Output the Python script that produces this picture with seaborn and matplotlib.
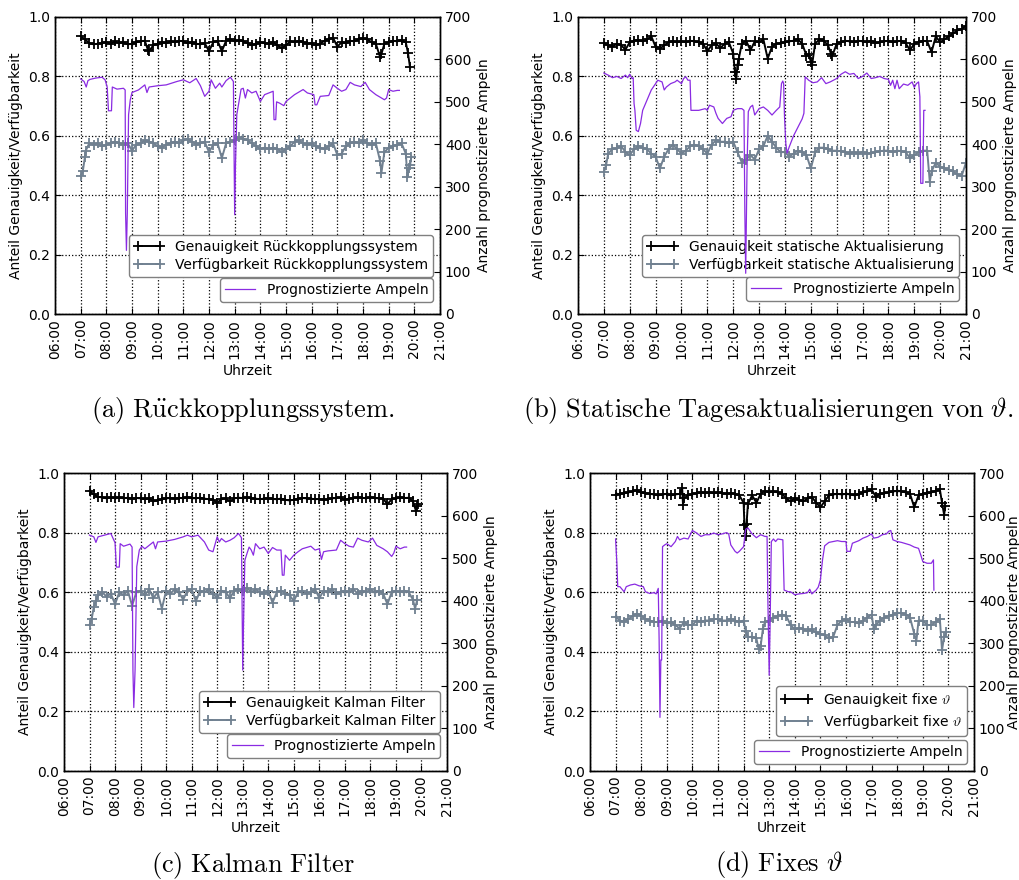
import matplotlib
matplotlib.use("Agg")
import matplotlib.pyplot as plt
import seaborn as sns

# ---------------- data ----------------
HOURS = list(range(6, 22))
TICK_LABELS = [f"{h:02d}:00" for h in HOURS]
GRID_START = "07:00"   # marker series are read every 10 minutes
GRID_STEP_MIN = 10

# (a) Rückkopplungssystem
A_ACC = [0.935, 0.925, 0.912, 0.908, 0.910, 0.912,
         0.915, 0.910, 0.918, 0.912, 0.915, 0.908,
         0.910, 0.915, 0.918, 0.920, 0.885, 0.905,
         0.910, 0.915, 0.912, 0.918, 0.915, 0.920,
         0.918, 0.912, 0.915, 0.910, 0.908, 0.912,
         0.885, 0.915, 0.920, 0.885, 0.920, 0.925,
         0.918, 0.922, 0.918, 0.912, 0.905, 0.910,
         0.915, 0.912, 0.910, 0.915, 0.905, 0.895,
         0.905, 0.918, 0.915, 0.920, 0.915, 0.910,
         0.912, 0.905, 0.910, 0.920, 0.925, 0.930,
         0.900, 0.915, 0.912, 0.920, 0.918, 0.925,
         0.928, 0.925, 0.915, 0.910, 0.865, 0.910,
         0.915, 0.920, 0.918, 0.922, 0.915, 0.830]
A_ACC_X = [("09:37", 0.890), ("18:43", 0.875), ("19:45", 0.880)]
A_AVL = [0.465, 0.530, 0.575, 0.570, 0.575, 0.565,
         0.570, 0.575, 0.580, 0.575, 0.570, 0.575,
         0.550, 0.570, 0.575, 0.585, 0.580, 0.575,
         0.565, 0.560, 0.570, 0.575, 0.580, 0.575,
         0.585, 0.590, 0.580, 0.570, 0.575, 0.580,
         0.545, 0.570, 0.575, 0.525, 0.575, 0.580,
         0.585, 0.595, 0.590, 0.585, 0.575, 0.565,
         0.555, 0.560, 0.555, 0.560, 0.555, 0.545,
         0.555, 0.565, 0.580, 0.585, 0.575, 0.570,
         0.575, 0.565, 0.560, 0.555, 0.565, 0.575,
         0.535, 0.540, 0.565, 0.575, 0.580, 0.575,
         0.585, 0.575, 0.570, 0.575, 0.515, 0.545,
         0.560, 0.565, 0.570, 0.575, 0.540, 0.500]
A_AVL_X = [("07:05", 0.480), ("07:12", 0.550), ("18:43", 0.475),
           ("19:44", 0.460), ("19:47", 0.490), ("19:53", 0.530)]
A_PRED = [("07:00", 554), ("07:08", 548), ("07:13", 535), ("07:17", 550), ("07:22", 553),
          ("07:35", 556), ("07:50", 558), ("07:57", 552), ("08:02", 535), ("08:05", 479),
          ("08:12", 479), ("08:14", 535), ("08:25", 530), ("08:40", 532), ("08:44", 528),
          ("08:45", 238), ("08:47", 150), ("08:49", 238), ("08:52", 470), ("08:56", 505),
          ("09:00", 522), ("09:15", 528), ("09:30", 540), ("09:35", 522), ("09:40", 535),
          ("10:00", 538), ("10:20", 540), ("10:45", 548), ("11:00", 552), ("11:15", 545),
          ("11:30", 555), ("11:40", 538), ("11:50", 513), ("12:00", 525), ("12:05", 552),
          ("12:15", 532), ("12:25", 544), ("12:30", 535), ("12:40", 550), ("12:50", 558),
          ("12:57", 548), ("13:00", 234), ("13:02", 356), ("13:05", 470), ("13:10", 500),
          ("13:15", 530), ("13:20", 532), ("13:25", 509), ("13:30", 529), ("13:40", 521),
          ("13:50", 525), ("14:00", 501), ("14:10", 517), ("14:30", 525), ("14:32", 458),
          ("14:36", 458), ("14:38", 500), ("14:45", 497), ("14:55", 491), ("15:00", 501),
          ("15:10", 509), ("15:20", 517), ("15:40", 529), ("15:50", 521), ("16:05", 517),
          ("16:08", 493), ("16:12", 493), ("16:20", 513), ("16:40", 515), ("16:50", 540),
          ("17:00", 532), ("17:10", 525), ("17:20", 529), ("17:30", 546), ("17:40", 540),
          ("17:55", 536), ("18:05", 546), ("18:15", 529), ("18:30", 517), ("18:50", 505),
          ("18:55", 509), ("19:00", 529), ("19:10", 525), ("19:20", 527), ("19:25", 527)]

# (b) Statische Tagesaktualisierungen
B_ACC = [0.912, 0.905, 0.900, 0.910, 0.905, 0.890,
         0.915, 0.920, 0.922, 0.918, 0.925, 0.935,
         0.900, 0.893, 0.905, 0.915, 0.918, 0.915,
         0.918, 0.915, 0.920, 0.918, 0.915, 0.910,
         0.885, 0.905, 0.912, 0.895, 0.910, 0.915,
         0.877, 0.840, 0.910, 0.920, 0.888, 0.918,
         0.915, 0.925, 0.860, 0.900, 0.910, 0.912,
         0.915, 0.918, 0.920, 0.925, 0.910, 0.870,
         0.850, 0.910, 0.925, 0.920, 0.905, 0.870,
         0.910, 0.915, 0.920, 0.918, 0.915, 0.920,
         0.918, 0.915, 0.920, 0.912, 0.915, 0.918,
         0.920, 0.915, 0.918, 0.920, 0.912, 0.888,
         0.910, 0.915, 0.920, 0.918, 0.882, 0.935,
         0.915, 0.925, 0.935, 0.945, 0.955, 0.960,
         0.970]
B_ACC_X = [("12:04", 0.815), ("12:07", 0.790), ("12:13", 0.860),
           ("14:55", 0.875), ("15:03", 0.840), ("15:47", 0.875)]
B_AVL = [0.478, 0.540, 0.555, 0.558, 0.566, 0.545,
         0.535, 0.555, 0.565, 0.560, 0.555, 0.540,
         0.530, 0.490, 0.530, 0.555, 0.570, 0.555,
         0.540, 0.550, 0.565, 0.570, 0.565, 0.555,
         0.540, 0.570, 0.585, 0.580, 0.580, 0.575,
         0.580, 0.545, 0.510, 0.520, 0.535, 0.520,
         0.555, 0.565, 0.600, 0.580, 0.560, 0.545,
         0.545, 0.530, 0.540, 0.550, 0.545, 0.535,
         0.490, 0.545, 0.560, 0.560, 0.555, 0.550,
         0.550, 0.548, 0.545, 0.540, 0.545, 0.540,
         0.545, 0.540, 0.542, 0.545, 0.548, 0.550,
         0.550, 0.545, 0.550, 0.548, 0.545, 0.525,
         0.535, 0.545, 0.550, 0.550, 0.480, 0.510,
         0.495, 0.490, 0.485, 0.480, 0.470, 0.465,
         0.510]
B_AVL_X = [("07:05", 0.500), ("19:36", 0.445)]
B_PRED = [("07:00", 568), ("07:10", 563), ("07:20", 557), ("07:30", 560), ("07:40", 555),
          ("07:50", 563), ("07:55", 557), ("08:00", 565), ("08:05", 555), ("08:08", 557),
          ("08:10", 496), ("08:12", 480), ("08:15", 433), ("08:20", 430), ("08:25", 449),
          ("08:30", 480), ("08:40", 504), ("08:50", 528), ("09:00", 543), ("09:05", 551),
          ("09:15", 547), ("09:20", 528), ("09:25", 535), ("09:35", 543), ("09:45", 547),
          ("09:50", 551), ("10:00", 543), ("10:05", 555), ("10:10", 559), ("10:15", 551),
          ("10:20", 551), ("10:22", 480), ("10:40", 480), ("10:55", 484), ("11:00", 480),
          ("11:05", 492), ("11:15", 488), ("11:20", 473), ("11:25", 461), ("11:35", 449),
          ("11:45", 461), ("11:55", 465), ("12:00", 480), ("12:10", 484), ("12:20", 484),
          ("12:25", 480), ("12:27", 241), ("12:29", 96), ("12:32", 339), ("12:35", 477),
          ("12:40", 488), ("12:45", 492), ("12:50", 469), ("13:00", 484), ("13:10", 488),
          ("13:20", 480), ("13:30", 469), ("13:40", 480), ("13:48", 488), ("13:52", 543),
          ("13:55", 549), ("13:57", 543), ("13:59", 465), ("14:02", 402), ("14:05", 379),
          ("14:10", 394), ("14:20", 420), ("14:30", 440), ("14:40", 460), ("14:44", 473),
          ("14:47", 559), ("14:55", 551), ("15:05", 545), ("15:15", 547), ("15:25", 557),
          ("15:35", 543), ("15:45", 547), ("16:00", 555), ("16:10", 565), ("16:20", 571),
          ("16:30", 565), ("16:40", 567), ("16:50", 555), ("17:00", 560), ("17:10", 568),
          ("17:20", 555), ("17:30", 557), ("17:40", 560), ("17:50", 555), ("18:00", 553),
          ("18:05", 539), ("18:10", 551), ("18:15", 531), ("18:20", 551), ("18:25", 531),
          ("18:35", 542), ("18:45", 539), ("18:55", 547), ("19:00", 534), ("19:05", 543),
          ("19:10", 547), ("19:13", 512), ("19:15", 308), ("19:20", 308), ("19:22", 480),
          ("19:25", 480)]

# (c) Kalman Filter
C_ACC = [0.940, 0.928, 0.920, 0.918, 0.915, 0.918,
         0.916, 0.918, 0.915, 0.917, 0.914, 0.916,
         0.915, 0.912, 0.915, 0.905, 0.908, 0.912,
         0.915, 0.916, 0.914, 0.917, 0.915, 0.918,
         0.916, 0.915, 0.917, 0.914, 0.912, 0.910,
         0.900, 0.912, 0.915, 0.905, 0.915, 0.917,
         0.916, 0.918, 0.915, 0.914, 0.912, 0.914,
         0.915, 0.913, 0.912, 0.914, 0.910, 0.908,
         0.910, 0.914, 0.916, 0.915, 0.914, 0.912,
         0.913, 0.910, 0.912, 0.915, 0.916, 0.918,
         0.910, 0.914, 0.916, 0.918, 0.917, 0.915,
         0.918, 0.916, 0.915, 0.914, 0.895, 0.912,
         0.915, 0.918, 0.916, 0.917, 0.905, 0.890]
C_ACC_X = [("19:47", 0.873), ("19:53", 0.895)]
C_AVL = [0.490, 0.550, 0.590, 0.600, 0.585, 0.595,
         0.560, 0.600, 0.590, 0.605, 0.555, 0.600,
         0.605, 0.590, 0.610, 0.580, 0.600, 0.545,
         0.605, 0.595, 0.610, 0.600, 0.575, 0.605,
         0.610, 0.570, 0.605, 0.600, 0.610, 0.595,
         0.580, 0.605, 0.600, 0.580, 0.605, 0.610,
         0.605, 0.615, 0.600, 0.610, 0.600, 0.595,
         0.605, 0.565, 0.600, 0.605, 0.595, 0.590,
         0.570, 0.600, 0.605, 0.595, 0.600, 0.610,
         0.580, 0.605, 0.600, 0.610, 0.595, 0.600,
         0.605, 0.600, 0.610, 0.595, 0.605, 0.600,
         0.610, 0.600, 0.605, 0.595, 0.560, 0.600,
         0.605, 0.600, 0.605, 0.600, 0.575, 0.575]
C_AVL_X = [("07:05", 0.510), ("07:15", 0.570), ("19:45", 0.545)]
C_PRED = [("07:00", 554), ("07:10", 550), ("07:15", 537), ("07:20", 550), ("07:35", 554),
          ("07:50", 558), ("08:00", 536), ("08:03", 479), ("08:10", 479), ("08:12", 534),
          ("08:20", 528), ("08:35", 533), ("08:40", 526), ("08:42", 237), ("08:44", 149),
          ("08:47", 237), ("08:51", 480), ("08:57", 519), ("09:03", 528), ("09:10", 522),
          ("09:30", 538), ("09:35", 522), ("09:40", 538), ("10:00", 540), ("10:20", 544),
          ("10:40", 550), ("10:50", 554), ("11:00", 550), ("11:15", 554), ("11:30", 538),
          ("11:40", 519), ("11:50", 515), ("12:00", 550), ("12:05", 538), ("12:10", 546),
          ("12:20", 538), ("12:30", 542), ("12:40", 548), ("12:50", 558), ("12:57", 548),
          ("13:00", 237), ("13:02", 354), ("13:05", 495), ("13:10", 511), ("13:15", 526),
          ("13:20", 519), ("13:25", 507), ("13:30", 534), ("13:40", 522), ("13:50", 526),
          ("14:00", 511), ("14:10", 525), ("14:20", 519), ("14:30", 519), ("14:33", 460),
          ("14:37", 460), ("14:40", 507), ("14:50", 495), ("15:00", 507), ("15:10", 515),
          ("15:20", 522), ("15:40", 528), ("15:50", 519), ("16:00", 522), ("16:05", 497),
          ("16:10", 515), ("16:20", 517), ("16:40", 519), ("16:50", 542), ("17:00", 534),
          ("17:10", 528), ("17:20", 526), ("17:30", 547), ("17:40", 542), ("17:55", 538),
          ("18:05", 547), ("18:15", 530), ("18:30", 522), ("18:40", 515), ("18:50", 504),
          ("18:55", 512), ("19:00", 528), ("19:10", 522), ("19:20", 526), ("19:25", 526)]

# (d) Fixes theta
D_ACC = [0.927, 0.930, 0.932, 0.935, 0.938, 0.942,
         0.935, 0.932, 0.930, 0.928, 0.925, 0.928,
         0.930, 0.925, 0.928, 0.930, 0.915, 0.925,
         0.930, 0.932, 0.935, 0.933, 0.935, 0.932,
         0.935, 0.932, 0.930, 0.932, 0.930, 0.925,
         0.900, 0.895, 0.925, 0.900, 0.930, 0.940,
         0.935, 0.938, 0.935, 0.930, 0.915, 0.905,
         0.915, 0.910, 0.905, 0.915, 0.920, 0.900,
         0.885, 0.905, 0.925, 0.928, 0.930, 0.928,
         0.930, 0.928, 0.925, 0.930, 0.935, 0.938,
         0.945, 0.920, 0.930, 0.932, 0.935, 0.938,
         0.940, 0.938, 0.935, 0.930, 0.885, 0.925,
         0.930, 0.932, 0.935, 0.940, 0.945, 0.860]
D_ACC_X = [("09:36", 0.950), ("09:38", 0.893), ("12:02", 0.825), ("12:05", 0.787),
           ("12:07", 0.830), ("19:45", 0.900), ("19:53", 0.890)]
D_AVL = [0.518, 0.505, 0.500, 0.510, 0.520, 0.528,
         0.520, 0.510, 0.505, 0.500, 0.500, 0.505,
         0.495, 0.500, 0.490, 0.478, 0.500, 0.490,
         0.490, 0.505, 0.500, 0.505, 0.505, 0.510,
         0.510, 0.505, 0.505, 0.510, 0.505, 0.500,
         0.505, 0.450, 0.450, 0.445, 0.420, 0.500,
         0.505, 0.515, 0.520, 0.525, 0.520, 0.490,
         0.475, 0.480, 0.475, 0.470, 0.475, 0.465,
         0.460, 0.455, 0.445, 0.450, 0.490, 0.505,
         0.510, 0.500, 0.500, 0.495, 0.505, 0.515,
         0.525, 0.490, 0.505, 0.515, 0.520, 0.525,
         0.530, 0.530, 0.525, 0.515, 0.460, 0.505,
         0.505, 0.490, 0.490, 0.500, 0.510, 0.450]
D_AVL_X = [("12:05", 0.470), ("12:35", 0.410), ("12:45", 0.475), ("17:05", 0.478),
           ("18:45", 0.437), ("19:45", 0.405), ("19:55", 0.465)]
D_PRED = [("07:00", 545), ("07:03", 488), ("07:05", 433), ("07:10", 433), ("07:15", 427),
          ("07:20", 421), ("07:25", 433), ("07:35", 437), ("07:45", 439), ("07:55", 435),
          ("08:05", 433), ("08:10", 421), ("08:20", 417), ("08:30", 419), ("08:35", 416),
          ("08:40", 429), ("08:42", 308), ("08:44", 126), ("08:46", 261), ("08:48", 261),
          ("08:50", 527), ("08:55", 531), ("09:00", 534), ("09:10", 527), ("09:20", 539),
          ("09:25", 551), ("09:30", 543), ("09:40", 547), ("09:50", 545), ("10:00", 565),
          ("10:10", 559), ("10:20", 551), ("10:30", 555), ("10:40", 555), ("10:50", 559),
          ("11:00", 555), ("11:10", 557), ("11:20", 560), ("11:25", 557), ("11:30", 531),
          ("11:40", 516), ("11:45", 512), ("11:50", 516), ("12:00", 527), ("12:05", 568),
          ("12:10", 571), ("12:20", 557), ("12:30", 548), ("12:40", 555), ("12:50", 551),
          ("12:55", 551), ("12:57", 394), ("13:00", 225), ("13:02", 339), ("13:05", 539),
          ("13:10", 545), ("13:15", 539), ("13:20", 545), ("13:32", 543), ("13:35", 425),
          ("13:45", 421), ("13:50", 421), ("14:00", 414), ("14:10", 416), ("14:20", 417),
          ("14:30", 419), ("14:35", 427), ("14:40", 416), ("14:50", 425), ("14:55", 432),
          ("15:00", 449), ("15:05", 496), ("15:10", 529), ("15:20", 537), ("15:30", 539),
          ("15:40", 541), ("15:50", 539), ("16:00", 539), ("16:02", 516), ("16:10", 516),
          ("16:15", 535), ("16:30", 541), ("16:40", 547), ("16:50", 551), ("17:00", 557),
          ("17:05", 547), ("17:15", 549), ("17:25", 555), ("17:35", 557), ("17:40", 563),
          ("17:45", 565), ("17:50", 543), ("18:00", 539), ("18:10", 537), ("18:20", 534),
          ("18:30", 531), ("18:40", 526), ("18:50", 523), ("18:55", 508), ("19:00", 492),
          ("19:10", 488), ("19:20", 488), ("19:25", 496), ("19:26", 425)]

PANELS = [
    dict(acc=A_ACC, acc_x=A_ACC_X, avl=A_AVL, avl_x=A_AVL_X, pred=A_PRED,
         lab_acc="Genauigkeit Rückkopplungssystem", lab_avl="Verfügbarkeit Rückkopplungssystem",
         caption=r"$\mathrm{(a)\ R\ddot{u}ckkopplungssystem.}$"),
    dict(acc=B_ACC, acc_x=B_ACC_X, avl=B_AVL, avl_x=B_AVL_X, pred=B_PRED,
         lab_acc="Genauigkeit statische Aktualisierung", lab_avl="Verfügbarkeit statische Aktualisierung",
         caption=r"$\mathrm{(b)\ Statische\ Tagesaktualisierungen\ von\ }\vartheta\mathrm{.}$"),
    dict(acc=C_ACC, acc_x=C_ACC_X, avl=C_AVL, avl_x=C_AVL_X, pred=C_PRED,
         lab_acc="Genauigkeit Kalman Filter", lab_avl="Verfügbarkeit Kalman Filter",
         caption=r"$\mathrm{(c)\ Kalman\ Filter}$"),
    dict(acc=D_ACC, acc_x=D_ACC_X, avl=D_AVL, avl_x=D_AVL_X, pred=D_PRED,
         lab_acc=r"Genauigkeit fixe $\vartheta$", lab_avl=r"Verfügbarkeit fixe $\vartheta$",
         caption=r"$\mathrm{(d)\ Fixes\ }\vartheta$"),
]

# ---------------- layout / style ----------------
W, H = 1020, 880
AX_BOX = [(55, 17, 440, 314), (578, 17, 966, 314), (64, 473, 447, 771), (590, 473, 974, 771)]
CAP_POS = [(243, 410), (768, 410), (253, 865), (779, 864)]
LEG1_Y = [0.125, 0.125, 0.128, 0.117]
LEG2_Y = [0.040, 0.044, 0.044, 0.023]
RLABEL_PAD = [4, 4, 4, 1]

plt.rcParams.update({
    "font.family": ["DejaVu Sans"],
    "font.size": 10,
    "mathtext.fontset": "cm",
    "xtick.direction": "in",
    "ytick.direction": "in",
    "xtick.top": True,
    "xtick.major.size": 4,
    "ytick.major.size": 4,
    "axes.linewidth": 1.0,
    "legend.fontsize": 10,
})

BLACK = "#000000"
GRAY = "#708090"
VIOLET = "#8A2BE2"


def hm(s):
    h, m = s.split(":")
    return int(h) + int(m) / 60.0


def merge(base, extra):
    t0 = hm(GRID_START)
    pts = [(t0 + i * GRID_STEP_MIN / 60.0, v) for i, v in enumerate(base)]
    pts += [(hm(t), v) for t, v in extra]
    pts.sort()
    return [p[0] for p in pts], [p[1] for p in pts]


fig = plt.figure(figsize=(W / 100, H / 100), dpi=100)

for i, p in enumerate(PANELS):
    x0, y0, x1, y1 = AX_BOX[i]
    ax = fig.add_axes([x0 / W, 1 - y1 / H, (x1 - x0) / W, (y1 - y0) / H])
    ax2 = ax.twinx()

    tx, vy = merge(p["acc"], p["acc_x"])
    sns.lineplot(x=tx, y=vy, ax=ax, color=BLACK, marker="+", markersize=7,
                 markeredgewidth=1.3, markeredgecolor=BLACK, linewidth=1.4,
                 estimator=None, legend=False)
    l_acc = ax.lines[-1]
    tx, vy = merge(p["avl"], p["avl_x"])
    sns.lineplot(x=tx, y=vy, ax=ax, color=GRAY, marker="+", markersize=7,
                 markeredgewidth=1.3, markeredgecolor=GRAY, linewidth=1.4,
                 estimator=None, legend=False)
    l_avl = ax.lines[-1]

    px = [hm(t) for t, _ in p["pred"]]
    pv = [v for _, v in p["pred"]]
    sns.lineplot(x=px, y=pv, ax=ax2, color=VIOLET, linewidth=0.9,
                 estimator=None, legend=False, sort=False)
    l_pred = ax2.lines[-1]

    ax.set_xlim(6, 21)
    ax.set_xticks(HOURS)
    ax.set_xticklabels(TICK_LABELS, rotation=90)
    ax.set_ylim(0, 1.0)
    ax.set_yticks([0.0, 0.2, 0.4, 0.6, 0.8, 1.0])
    ax.set_yticklabels(["0.0", "0.2", "0.4", "0.6", "0.8", "1.0"])
    ax2.set_ylim(0, 700)
    ax2.set_yticks(range(0, 701, 100))
    ax.grid(True, linestyle=":", color="black", linewidth=0.9)
    ax.set_xlabel("Uhrzeit")
    ax.set_ylabel("Anteil Genauigkeit/Verfügbarkeit")
    ax2.set_ylabel("Anzahl prognostizierte Ampeln", labelpad=RLABEL_PAD[i])

    ax.legend([l_acc, l_avl], [p["lab_acc"], p["lab_avl"]], loc="lower right",
              bbox_to_anchor=(0.982, LEG1_Y[i]), borderaxespad=0, numpoints=2,
              fancybox=True, framealpha=1, edgecolor="#808080",
              handlelength=2.2, borderpad=0.35, labelspacing=0.3)
    ax2.legend([l_pred], ["Prognostizierte Ampeln"], loc="lower right",
               bbox_to_anchor=(0.982, LEG2_Y[i]), borderaxespad=0,
               fancybox=True, framealpha=1, edgecolor="#808080",
               handlelength=2.2, borderpad=0.35)

    cx, cy = CAP_POS[i]
    fig.text(cx / W, 1 - cy / H, p["caption"], ha="center", va="center", fontsize=19)

fig.savefig("out.png", dpi=100)
